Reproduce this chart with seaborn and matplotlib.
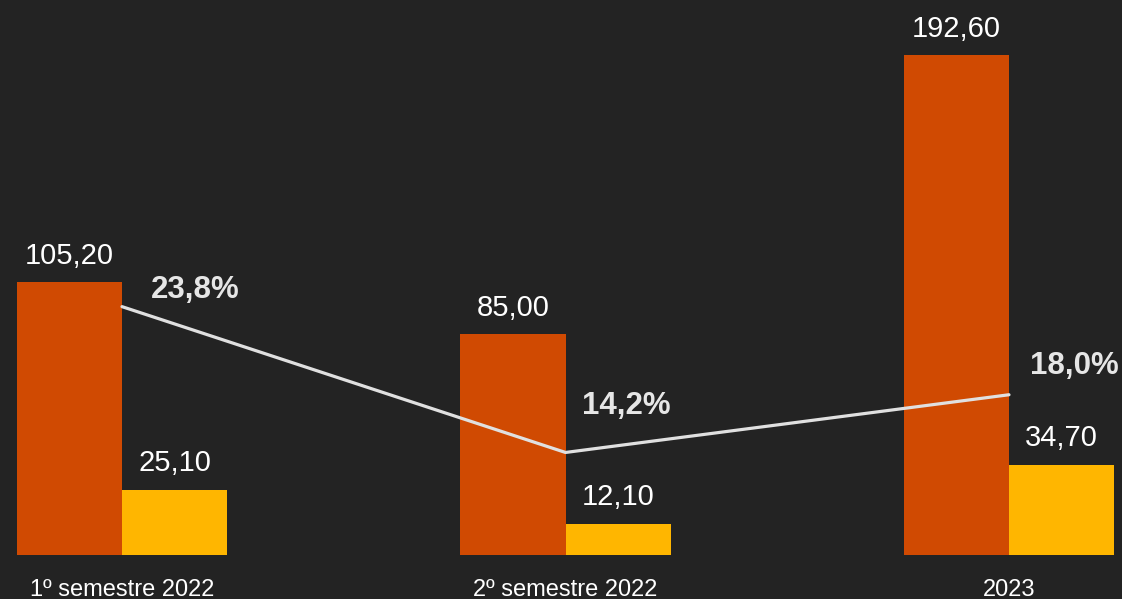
import matplotlib
matplotlib.use("Agg")
import matplotlib.pyplot as plt
import seaborn as sns
import pandas as pd

categories = ["1º semestre 2022", "2º semestre 2022", "2023"]
series_names = ["Série A", "Série B"]
values_a = [105.20, 85.00, 192.60]
values_b = [25.10, 12.10, 34.70]
pct_values = [23.8, 14.2, 18.0]
pct_labels = ["23,8%", "14,2%", "18,0%"]

BG = "#232323"
ORANGE = "#D04A02"
YELLOW = "#FFB600"
LINE = "#E0E0E0"

sns.set_theme(style="white")
plt.rcParams["font.family"] = ["Liberation Sans", "DejaVu Sans"]

df = pd.DataFrame({
    "cat": categories * 2,
    "serie": [series_names[0]] * 3 + [series_names[1]] * 3,
    "val": values_a + values_b,
})
dfl = pd.DataFrame({"x": [0, 1, 2], "pct": pct_values})

fig = plt.figure(figsize=(11.22, 5.99), dpi=100, facecolor=BG)
ax = fig.add_axes([0, 44 / 599, 1, (555 - 20) / 599])
ax.set_facecolor(BG)

sns.barplot(data=df, x="cat", y="val", hue="serie", order=categories,
            hue_order=series_names, palette=[ORANGE, YELLOW], width=0.474,
            saturation=1, legend=False, linewidth=0, ax=ax)
ax.set_xlim(-122 / 443.5, (1122 - 122) / 443.5)
ax.set_ylim(0, 535 / 2.595)

for cont in ax.containers:
    for rect in cont:
        h = rect.get_height()
        ax.annotate(f"{h:.2f}".replace(".", ","),
                    (rect.get_x() + rect.get_width() / 2, h),
                    xytext=(0, 9), textcoords="offset points",
                    ha="center", va="bottom", color="white", fontsize=21)

ax.set_xlabel("")
ax.set_ylabel("")
ax.set_yticks([])
ax.tick_params(axis="x", length=0, pad=17, labelsize=17, colors="white")
for s in ax.spines.values():
    s.set_visible(False)

ax2 = ax.twinx()
sns.lineplot(data=dfl, x="x", y="pct", color=LINE, linewidth=2.3, ax=ax2)
ax2.set_ylim(7.45, 42.67)
ax2.set_yticks([])
ax2.set_ylabel("")
for s in ax2.spines.values():
    s.set_visible(False)

offsets = [(73, 17), (61, 46), (65, 29)]
for i, (v, lab) in enumerate(zip(pct_values, pct_labels)):
    ax2.annotate(lab, (i, v), xytext=(offsets[i][0] * 0.72, offsets[i][1] * 0.72),
                 textcoords="offset points", ha="center", va="center",
                 color="#E6E6E6", fontsize=22.5, fontweight="bold")

fig.savefig("out.png", dpi=100, facecolor=BG)
